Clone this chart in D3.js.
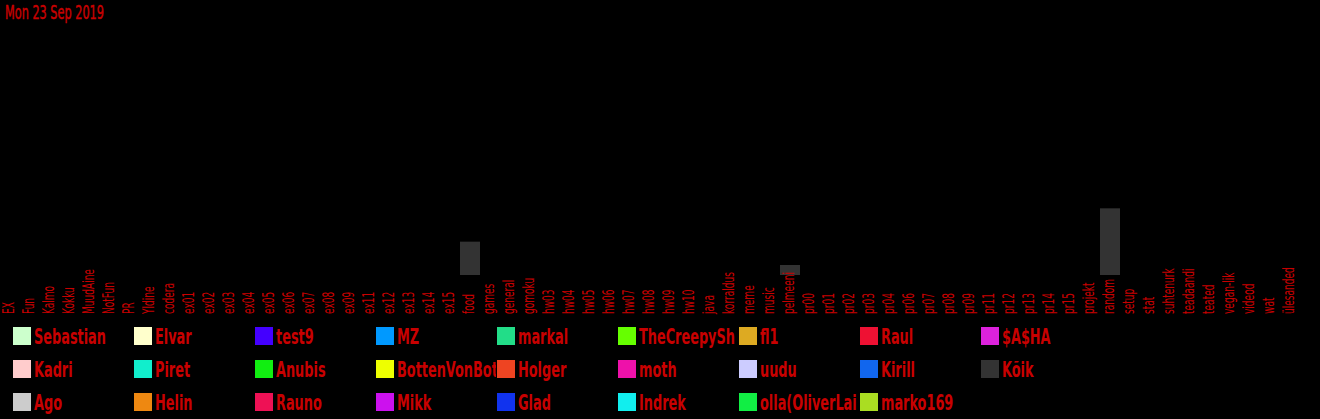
<!DOCTYPE html>
<html><head><meta charset="utf-8">
<script src="https://cdn.jsdelivr.net/npm/d3@7"></script>
<style>
html,body{margin:0;padding:0;background:#000;overflow:hidden}
svg{display:block}
text{font-family:"Liberation Sans Narrow","DejaVu Sans Condensed","Open Sans",sans-serif}
</style></head><body>
<svg id="c" width="1320" height="419"></svg>
<script>
const title = "Mon 23 Sep 2019";
const categories = ["EX","Fun","Kalmo","Kokku","MuudAine","NotFun","PR","Yldine","codera",
 "ex01","ex02","ex03","ex04","ex05","ex06","ex07","ex08","ex09","ex11","ex12","ex13","ex14","ex15",
 "food","games","general","gomoku","hw03","hw04","hw05","hw06","hw07","hw08","hw09","hw10",
 "java","korraldus","meme","music","pelmeeni","pr00","pr01","pr02","pr03","pr04","pr06","pr07","pr08","pr09",
 "pr11","pr12","pr13","pr14","pr15","projekt","random","setup","stat","suhtenurk","teadaandi","teated",
 "vegan-lik","videod","wat","ülesanded"];
// "Kõik" (all) series: counts per category (non-zero only where a bar is visible)
const koikCats = ["food","pelmeeni","random"];
const koikValues = [10, 3, 20];
// legend names as visible in the chart (long names are cut off by their column)
const legendNames = [
 "Sebastian","Elvar","test9","MZ","markal","TheCreepySh","fl1","Raul","$A$HA",
 "Kadri","Piret","Anubis","BottenVonBot","Holger","moth","uudu","Kirill","Kõik",
 "Ago","Helin","Rauno","Mikk","Glad","Indrek","olla(OliverLai","marko169"];
const legendColors = [
 "#ccffcc","#ffffcc","#4400ff","#0099ff","#22dd88","#66ff00","#ddaa22","#ee1133","#dd22dd",
 "#ffcccc","#11eecc","#11ee11","#eeff00","#ee4422","#ee11aa","#ccccff","#1166ee","#333333",
 "#cccccc","#ee8811","#ee1155","#cc11ee","#1133ee","#11eeee","#11ee44","#aadd22"];

const RED = "#c80000";
const svg = d3.select("#c");
svg.append("rect").attr("width",1320).attr("height",419).attr("fill","#000");

function measure(str, size, weight){
  const t = svg.append("text").attr("font-size", size).attr("font-weight", weight).text(str);
  const w = t.node().getComputedTextLength(); t.remove(); return w;
}
const kTitle = 99 / measure(title, 19, "normal");
const kLeg = 72 / measure("Sebastian", 21, "bold");
const kAx = 42 / measure("pelmeeni", 15, "normal");

// title
svg.append("text").attr("transform", `translate(5,19) scale(${kTitle},1)`)
  .attr("font-size", 19).attr("fill", RED)
  .attr("stroke", RED).attr("stroke-width", 0.5).text(title);

const baseY = 275;
const x = d3.scaleBand().domain(categories).range([0, 1300]).padding(0);
const y = d3.scaleLinear().domain([0, 60]).range([baseY, 75]);

const valueMap = new Map(koikCats.map((c,i)=>[c, koikValues[i]]));
svg.append("g").selectAll("rect").data(categories.filter(c=>valueMap.has(c))).join("rect")
  .attr("x", d=>x(d)).attr("width", x.bandwidth())
  .attr("y", d=>y(valueMap.get(d))).attr("height", d=>baseY - y(valueMap.get(d)))
  .attr("fill", legendColors[legendNames.indexOf("Kõik")]);

const ax = svg.append("g").attr("transform", `translate(0,${baseY})`)
  .call(d3.axisBottom(x).tickSize(0));
ax.select(".domain").remove();
ax.selectAll("text")
  .attr("font-size", 15).attr("font-family", null).attr("fill", RED)
  .attr("x", 0).attr("y", 0).attr("dy", null)
  .attr("text-anchor", "start")
  .attr("transform", `translate(3.5,39) rotate(-90) scale(${kAx},1)`);

// legend
const defs = svg.append("defs");
const colW = 121, rowH = 33, lx0 = 13, ly0 = 327;
const items = svg.append("g").selectAll("g").data(legendNames).join("g")
  .attr("transform", (d,i)=>`translate(${lx0 + (i%9)*colW},${ly0 + Math.floor(i/9)*rowH})`);
items.each(function(d,i){
  defs.append("clipPath").attr("id","lc"+i).append("rect")
    .attr("x",0).attr("y",-5).attr("width",colW-1).attr("height",30);
});
items.attr("clip-path",(d,i)=>`url(#lc${i})`);
items.append("rect").attr("width",18).attr("height",18).attr("fill",(d,i)=>legendColors[i]);
items.append("text").attr("transform", `translate(21,16.5) scale(${kLeg},1)`)
  .attr("font-size", 21).attr("font-weight","bold").attr("fill", RED).text(d=>d);
</script></body></html>
